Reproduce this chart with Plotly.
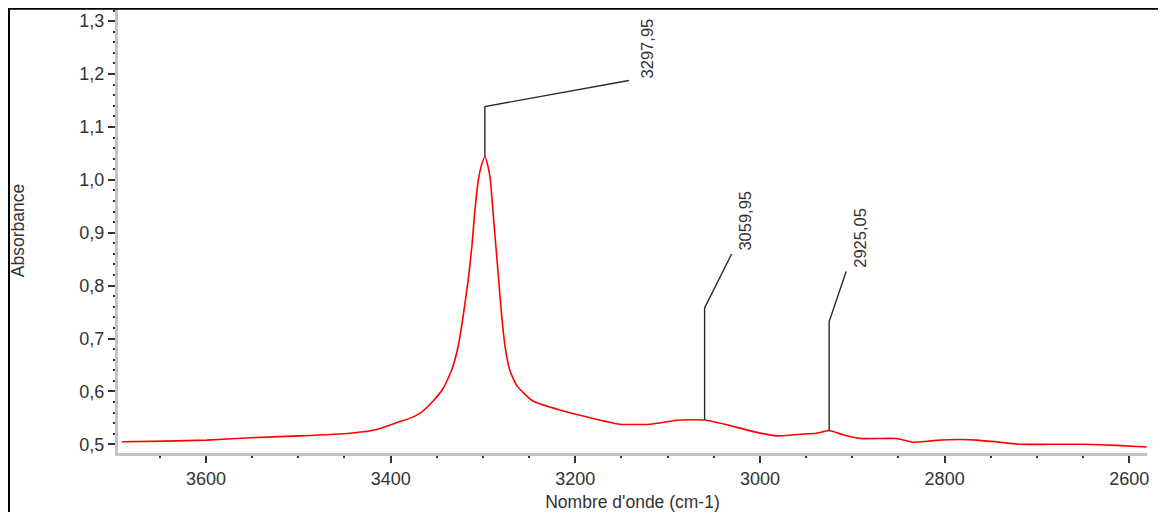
import plotly.graph_objects as go

# ---------------- data ----------------
wavenumber = [3691, 3643, 3599, 3545, 3498, 3444, 3415, 3390, 3378, 3368, 3354,
              3343, 3334, 3327, 3321, 3316, 3312, 3309, 3305, 3302, 3297.95,
              3294.5, 3292, 3289, 3286, 3283, 3280, 3276, 3271, 3263, 3246,
              3217, 3188, 3152, 3119, 3087, 3059.95, 3036, 3007, 2982, 2957,
              2939, 2925.05, 2910, 2892, 2852, 2835, 2812, 2783, 2765, 2740,
              2718, 2686, 2650, 2614, 2581]
absorbance = [0.505, 0.506, 0.508, 0.513, 0.516, 0.521, 0.528, 0.543, 0.550, 0.559, 0.582,
              0.606, 0.640, 0.684, 0.748, 0.811, 0.874, 0.937, 1.000, 1.025, 1.044,
              1.025, 1.000, 0.937, 0.874, 0.811, 0.748, 0.684, 0.640, 0.610, 0.582,
              0.565, 0.552, 0.538, 0.538, 0.546, 0.546, 0.537, 0.524, 0.516, 0.519,
              0.521, 0.526, 0.518, 0.511, 0.511, 0.504, 0.507, 0.509, 0.508, 0.504,
              0.500, 0.500, 0.500, 0.498, 0.495]

peak_wn = [3297.95, 3059.95, 2925.05]
peak_labels = ["3297,95", "3059,95", "2925,05"]

x_tick_vals = [3600, 3400, 3200, 3000, 2800, 2600]
x_tick_text = ["3600", "3400", "3200", "3000", "2800", "2600"]
y_tick_vals = [0.5, 0.6, 0.7, 0.8, 0.9, 1.0, 1.1, 1.2, 1.3]
y_tick_text = ["0,5", "0,6", "0,7", "0,8", "0,9", "1,0", "1,1", "1,2", "1,3"]

x_title = "Nombre d'onde (cm-1)"
y_title = "Absorbance"

# ---------------- style ----------------
# the page body adds an 8 px margin; keep the figure inside the window
W, H = 1150, 504
L, R, T, B = 110, 11, 0, 59
FONT = "Liberation Sans, Arial, sans-serif"
TXT = "#333333"
AXIS_GRAY = "#c4c4c4"

# leader geometry in pixels relative to the peak point: (vertical rise, diag dx, diag dy, label dx, label dy)
leader_px = [(50, 144, 76, 162, 76),
             (112, 27, 166, 40, 167),
             (109, 17, 159, 30, 161)]

fig = go.Figure()
fig.add_trace(go.Scatter(
    x=wavenumber, y=absorbance, mode="lines",
    line=dict(color="#ff0000", width=1.6, shape="spline", smoothing=0.5),
    showlegend=False, hoverinfo="skip"))

shapes = []
annotations = []
for wn, lab, (rise, dx, dy, lx, ly) in zip(peak_wn, peak_labels, leader_px):
    val = absorbance[wavenumber.index(wn)]
    shapes.append(dict(
        type="path", xref="x", yref="y", xsizemode="pixel", ysizemode="pixel",
        xanchor=wn, yanchor=val,
        path=f"M 0,0 L 0,{rise} L {dx},{dy}",
        line=dict(color="#2a2a2a", width=1.4)))
    annotations.append(dict(
        x=wn, y=val, xref="x", yref="y", text=lab, showarrow=False,
        textangle=-90, xanchor="center", yanchor="bottom",
        xshift=lx, yshift=ly,
        font=dict(family=FONT, size=16.5, color=TXT)))

# outer frame (figure pixel positions converted to paper coordinates)
pw, ph = W - L - R, H - T - B
def px2paper_x(px):
    return (px - L) / pw
def py2paper_y(py):
    return (H - B - py) / ph

shapes.append(dict(type="line", xref="paper", yref="paper",
                   x0=px2paper_x(0), x1=px2paper_x(W), y0=py2paper_y(0.8), y1=py2paper_y(0.8),
                   line=dict(color="#000000", width=2), layer="above"))
shapes.append(dict(type="line", xref="paper", yref="paper",
                   x0=px2paper_x(1), x1=px2paper_x(1), y0=py2paper_y(0), y1=py2paper_y(H),
                   line=dict(color="#000000", width=2), layer="above"))

fig.update_layout(
    width=W, height=H,
    margin=dict(l=L, r=R, t=T, b=B, pad=0),
    paper_bgcolor="white", plot_bgcolor="white",
    font=dict(family=FONT, size=17, color=TXT),
    shapes=shapes, annotations=annotations,
    showlegend=False,
)

fig.update_xaxes(
    range=[3695.3, 2580.8], autorange=False,
    tickmode="array", tickvals=x_tick_vals, ticktext=x_tick_text,
    ticks="outside", ticklen=7, tickwidth=2, tickcolor="#333333",
    showline=True, linecolor=AXIS_GRAY, linewidth=3,
    showgrid=False, zeroline=False,
    tickfont=dict(family=FONT, size=18, color=TXT),
    minor=dict(tickmode="linear", tick0=2600, dtick=50, ticks="outside",
               ticklen=2, tickwidth=2, tickcolor="#333333", showgrid=False),
    title=dict(text=x_title, standoff=12, font=dict(family=FONT, size=17.5, color=TXT)),
)
fig.update_yaxes(
    range=[0.4836, 1.3248], autorange=False,
    tickmode="array", tickvals=y_tick_vals, ticktext=y_tick_text,
    ticks="outside", ticklen=7, tickwidth=2, tickcolor="#333333",
    showline=True, linecolor=AXIS_GRAY, linewidth=3,
    showgrid=False, zeroline=False,
    tickfont=dict(family=FONT, size=18, color=TXT),
    minor=dict(tickmode="linear", tick0=0.5, dtick=0.02, ticks="outside",
               ticklen=2, tickwidth=2, tickcolor="#333333", showgrid=False),
    title=dict(text=y_title, standoff=52, font=dict(family=FONT, size=17.5, color=TXT)),
)

fig.write_html("out.html")
